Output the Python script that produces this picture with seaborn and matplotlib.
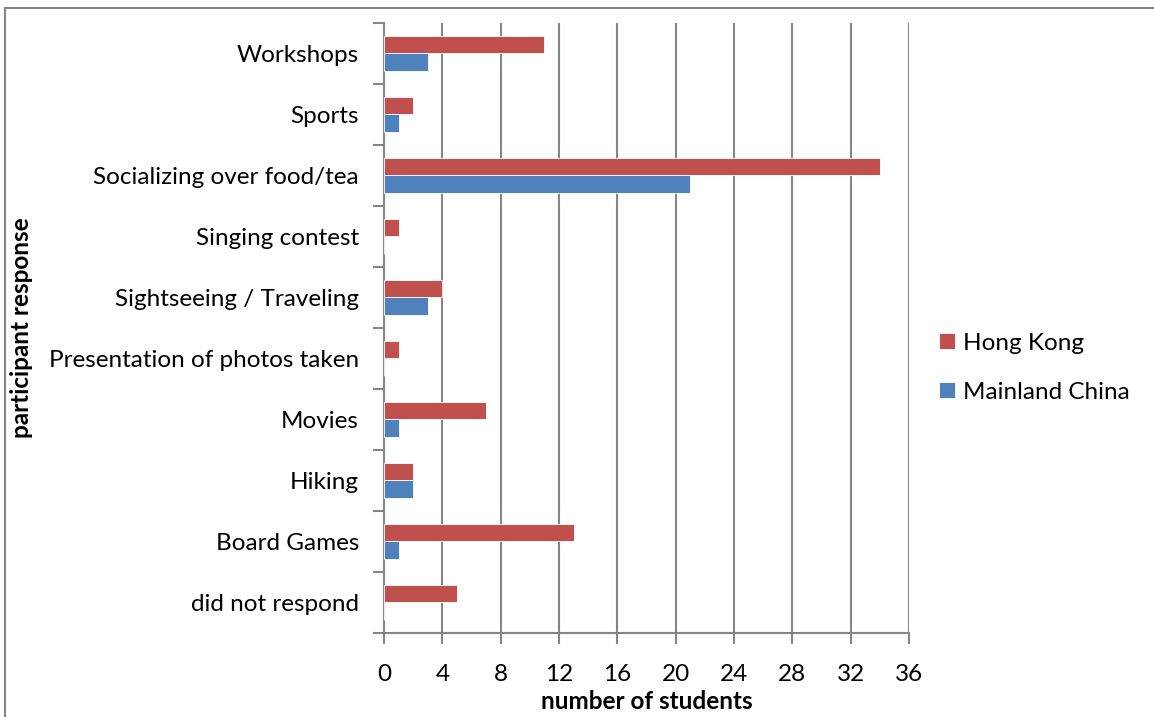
import numpy as np
import pandas as pd
import matplotlib
matplotlib.use("Agg")
import matplotlib.pyplot as plt
import matplotlib.patches as mpatches
import seaborn as sns

# categories, top to bottom
responses = [
    "Workshops",
    "Sports",
    "Socializing over food/tea",
    "Singing contest",
    "Sightseeing / Traveling",
    "Presentation of photos taken",
    "Movies",
    "Hiking",
    "Board Games",
    "did not respond",
]
hong_kong = [11, 2, 34, 1, 4, 1, 7, 2, 13, 5]
mainland_china = [3, 1, 21, 0, 3, 0, 1, 2, 1, 0]
groups = ["Hong Kong", "Mainland China"]
x_ticks = list(range(0, 37, 4))

GRID = "#868686"
COLORS = {"Hong Kong": "#C0504D", "Mainland China": "#4F81BD"}

df = pd.DataFrame({
    "response": responses * 2,
    "students": hong_kong + mainland_china,
    "group": [groups[0]] * len(responses) + [groups[1]] * len(responses),
})

sns.set_theme(style="white")
plt.rcParams["font.family"] = ["Lato", "DejaVu Sans"]
plt.rcParams["text.color"] = "black"
plt.rcParams["axes.labelcolor"] = "black"
plt.rcParams["xtick.labelcolor"] = "black"
plt.rcParams["ytick.labelcolor"] = "black"

fig = plt.figure(figsize=(11.54, 7.17), dpi=100)
ax = fig.add_axes([0.3328, 0.1172, 0.4549, 0.8508])

sns.barplot(data=df, y="response", x="students", hue="group",
            order=responses, hue_order=groups, palette=COLORS,
            orient="h", width=0.56, gap=0, edgecolor="white",
            linewidth=0.6, saturation=1, ax=ax, zorder=3)

ax.set_xlim(0, 36)
ax.set_ylim(len(responses) - 0.5, -0.5)
ax.set_xticks(x_ticks)
ax.set_xticklabels([str(t) for t in x_ticks], fontsize=17.5)
ax.grid(axis="x", color=GRID, linewidth=1.5, zorder=0)
ax.grid(axis="y", visible=False)

# labels at centres, tick marks at category boundaries
ax.set_yticks(np.arange(len(responses)))
ax.set_yticklabels(responses, fontsize=17.5)
ax.set_yticks(np.arange(-0.5, len(responses), 1), minor=True)
ax.tick_params(axis="y", which="major", length=0, pad=18)
ax.tick_params(axis="y", which="minor", length=8, width=1.5, color=GRID,
               direction="out", left=True)
ax.tick_params(axis="x", which="major", length=8, width=1.5, color=GRID,
               direction="out", bottom=True, pad=14)

for side in ["top", "right"]:
    ax.spines[side].set_visible(False)
for side in ["left", "bottom"]:
    ax.spines[side].set_color(GRID)
    ax.spines[side].set_linewidth(1.5)

ax.set_xlabel("number of students", fontsize=17.5, fontweight="bold", labelpad=4)
ax.set_ylabel("participant response", fontsize=17.5, fontweight="bold")
ax.yaxis.set_label_coords(-0.668, 0.5)

ax.legend(loc="center left", bbox_to_anchor=(1.057, 0.435), frameon=False,
          fontsize=17.5, handlelength=0.65, handleheight=0.65,
          handletextpad=0.35, labelspacing=1.15, borderaxespad=0,
          borderpad=0, title=None)

# outer chart border
fig.add_artist(mpatches.Rectangle((0.0045, -0.05), 1.2, 1.039,
                                  transform=fig.transFigure, fill=False,
                                  edgecolor=GRID, linewidth=1.5))

fig.savefig("out.png", dpi=100)
